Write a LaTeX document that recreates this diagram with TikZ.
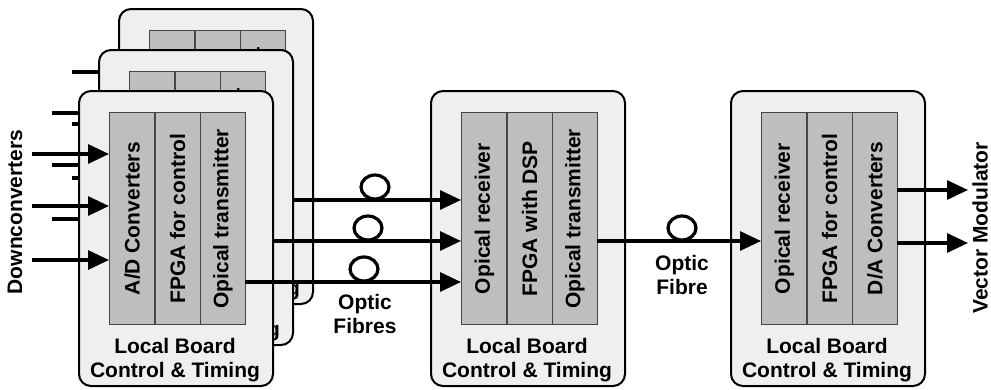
\documentclass[tikz,border=0pt]{standalone}
\usepackage{fontspec}
\setmainfont{Liberation Sans}
\usepackage{tikz}
\usetikzlibrary{arrows.meta}

\definecolor{boardfill}{RGB}{239,239,239}
\definecolor{partfill}{RGB}{190,190,190}
\definecolor{partline}{RGB}{70,70,70}

\tikzset{
  board/.style={draw, line width=2pt, fill=boardfill, rounded corners=12pt,
    minimum width=194pt, minimum height=295pt, inner sep=0pt, anchor=north west},
  part/.style={draw=partline, line width=1.4pt, fill=partfill,
    minimum width=45.3pt, minimum height=212pt, inner sep=0pt, anchor=north west,
    font=\bfseries\fontsize{21}{24}\selectfont},
  lbl/.style={align=center, inner sep=0pt, font=\bfseries\fontsize{21}{24}\selectfont},
  sig/.style={line width=3.2pt, -{Triangle[length=21pt,width=19pt]}},
  loopy/.style={line width=3.2pt},
}

\begin{document}
\begin{tikzpicture}[x=1pt,y=1pt,yscale=-1]
\useasboundingbox (0,0) rectangle (991,389);

% hub board
\node [board] (hub) at (430,90) {};
\node [part] (rxH) at (461,112) {\rotatebox{90}{Opical receiver}};
\node [part] (dspH) at (506.3,112) {\rotatebox{90}{FPGA with DSP}};
\node [part] (txH) at (551.6,112) {\rotatebox{90}{Opical transmitter}};
\node [lbl] (lbH) at (527,360) {Local Board\\Control \& Timing};

% dac board
\node [board] (dac) at (730,90) {};
\node [part] (rxD) at (761,112) {\rotatebox{90}{Opical receiver}};
\node [part] (ctlD) at (806.3,112) {\rotatebox{90}{FPGA for control}};
\node [part] (daD) at (851.6,112) {\rotatebox{90}{D/A Converters}};
\node [lbl] (lbD) at (827,360) {Local Board\\Control \& Timing};

% hub to dac
\coordinate (fH) at (596.9,241);
\draw [sig] (fH) -- (fH -| rxD.west);
\draw [loopy] (682,228) ellipse [x radius=14, y radius=12];
\node [lbl] (ofH) at (682,275) {Optic\\Fibre};

% dac outputs
\coordinate (vo1) at (896.9,190);
\coordinate (vo2) at (896.9,243);
\coordinate (vm1) at (968,190);
\coordinate (vm2) at (968,243);
\draw [sig] (vo1) -- (vm1);
\draw [sig] (vo2) -- (vm2);
\node [lbl, rotate=90] (vm) at (980,228) {Vector Modulator};

% back board
\node [board] (brdC) at (118,8) {};
\node [part] (adC) at (149,30) {\rotatebox{90}{A/D Converters}};
\node [part] (ctlC) at (194.3,30) {\rotatebox{90}{FPGA for control}};
\node [part] (txC) at (239.6,30) {\rotatebox{90}{Opical transmitter}};
\node [lbl] (lbC) at (215,278) {Local Board\\Control \& Timing};
\coordinate (dcC1) at (72,72);
\coordinate (dcC2) at (72,124);
\coordinate (dcC3) at (72,178);
\draw [sig] (dcC1) -- (dcC1 -| adC.west);
\draw [sig] (dcC2) -- (dcC2 -| adC.west);
\draw [sig] (dcC3) -- (dcC3 -| adC.west);
\coordinate (fC) at (284.9,200);
\draw [sig] (fC) -- (fC -| rxH.west);
\draw [loopy] (375,187) ellipse [x radius=14, y radius=12];

% middle board
\node [board] (brdB) at (98,49) {};
\node [part] (adB) at (129,71) {\rotatebox{90}{A/D Converters}};
\node [part] (ctlB) at (174.3,71) {\rotatebox{90}{FPGA for control}};
\node [part] (txB) at (219.6,71) {\rotatebox{90}{Opical transmitter}};
\node [lbl] (lbB) at (195,319) {Local Board\\Control \& Timing};
\coordinate (dcB1) at (52,113);
\coordinate (dcB2) at (52,165);
\coordinate (dcB3) at (52,219);
\draw [sig] (dcB1) -- (dcB1 -| adB.west);
\draw [sig] (dcB2) -- (dcB2 -| adB.west);
\draw [sig] (dcB3) -- (dcB3 -| adB.west);
\coordinate (fB) at (264.9,241);
\draw [sig] (fB) -- (fB -| rxH.west);
\draw [loopy] (368,228) ellipse [x radius=14, y radius=12];

% front board
\node [board] (brdA) at (78,90) {};
\node [part] (adA) at (109,112) {\rotatebox{90}{A/D Converters}};
\node [part] (ctlA) at (154.3,112) {\rotatebox{90}{FPGA for control}};
\node [part] (txA) at (199.6,112) {\rotatebox{90}{Opical transmitter}};
\node [lbl] (lbA) at (175,360) {Local Board\\Control \& Timing};
\coordinate (dcA1) at (32,154);
\coordinate (dcA2) at (32,206);
\coordinate (dcA3) at (32,260);
\draw [sig] (dcA1) -- (dcA1 -| adA.west);
\draw [sig] (dcA2) -- (dcA2 -| adA.west);
\draw [sig] (dcA3) -- (dcA3 -| adA.west);
\coordinate (fA) at (244.9,282);
\draw [sig] (fA) -- (fA -| rxH.west);
\draw [loopy] (364,269) ellipse [x radius=14, y radius=12];

% Text Node
\node [lbl, rotate=90] (dc) at (15,212) {Downconverters};
% Text Node
\node [lbl] (ofA) at (365,314) {Optic\\Fibres};

\end{tikzpicture}
\end{document}
